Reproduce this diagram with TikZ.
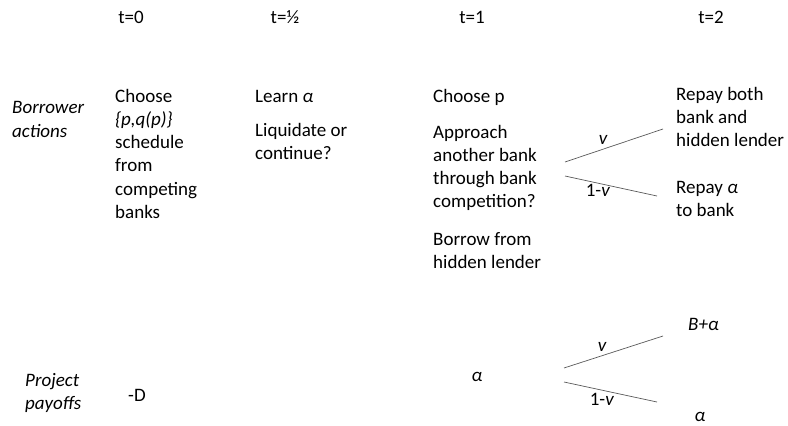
\documentclass[tikz,border=0pt]{standalone}
\usepackage{fontspec}
\setmainfont{Carlito}
\usetikzlibrary{positioning}
\tikzset{
  txt/.style={anchor=base west,inner sep=0pt,align=left,
    font=\fontsize{19}{23.3}\selectfont},
  hdr/.style={anchor=base,inner sep=0pt,font=\fontsize{19}{23.3}\selectfont},
  rowlab/.style={txt,font=\fontsize{19}{23.3}\selectfont\itshape},
  prob/.style={anchor=base,inner sep=0pt,font=\fontsize{19}{23.3}\selectfont\itshape},
  branch/.style={draw=black!65,line width=0.7pt},
}

\begin{document}
\begin{tikzpicture}[x=1pt,y=-1pt]
  \useasboundingbox (0,0) rectangle (788,426);
  % time line
  \node[hdr] (t0) at (131,23) {t=0};
  \node[hdr] (th) at (285,23) {t=½};
  \node[hdr] (t1) at (472,23) {t=1};
  \node[hdr] (t2) at (711,23) {t=2};
  % borrower actions (multi-line nodes sit on their last line)
  \node[rowlab] (ba) at (12,137) {Borrower\\actions};
  \node[txt] (a0) at (115,218.5) {Choose\\\textit{\{p,q(p)\}}\\schedule\\from\\competing\\banks};
  \node[txt] (ah1) at (255,102) {Learn \textit{α}};
  \node[txt] (ah2) at (255,159.3) {Liquidate or\\continue?};
  \node[txt] (a11) at (433,102) {Choose p};
  \node[txt] (a12) at (433,207.9) {Approach\\another bank\\through bank\\competition?};
  \node[txt] (a13) at (433,268.3) {Borrow from\\hidden lender};
  \node[txt] (a21) at (676,146.6) {Repay both\\bank and\\hidden lender};
  \node[txt] (a22) at (676,216.3) {Repay \textit{α}\\to bank};
  \coordinate (u0) at (565,162); \coordinate (u1) at (663,129);
  \coordinate (d0) at (565,176); \coordinate (d1) at (657,196);
  \draw[branch] (u0) -- (u1);
  \draw[branch] (d0) -- (d1);
  \node[prob] (pv) at (603,144) {v};
  \node[prob] (pnv) at (598,196) {\upshape 1-\textit{v}};
  % project payoffs
  \node[rowlab] (pp) at (25,409.3) {Project\\payoffs};
  \node[txt] (p0) at (128,401) {-D};
  \node[prob] (p1) at (477,381) {α};
  \node[txt,font=\fontsize{19}{23.3}\selectfont\itshape] (p2) at (688,330) {B+α};
  \node[prob] (p3) at (700,421) {α};
  \coordinate (l0) at (564,368); \coordinate (l1) at (663,336);
  \coordinate (l2) at (564,382); \coordinate (l3) at (657,402);
  \draw[branch] (l0) -- (l1);
  \draw[branch] (l2) -- (l3);
  \node[prob] (qv) at (602,351) {v};
  \node[prob] (qnv) at (602,405) {\upshape 1-\textit{v}};
\end{tikzpicture}
\end{document}
